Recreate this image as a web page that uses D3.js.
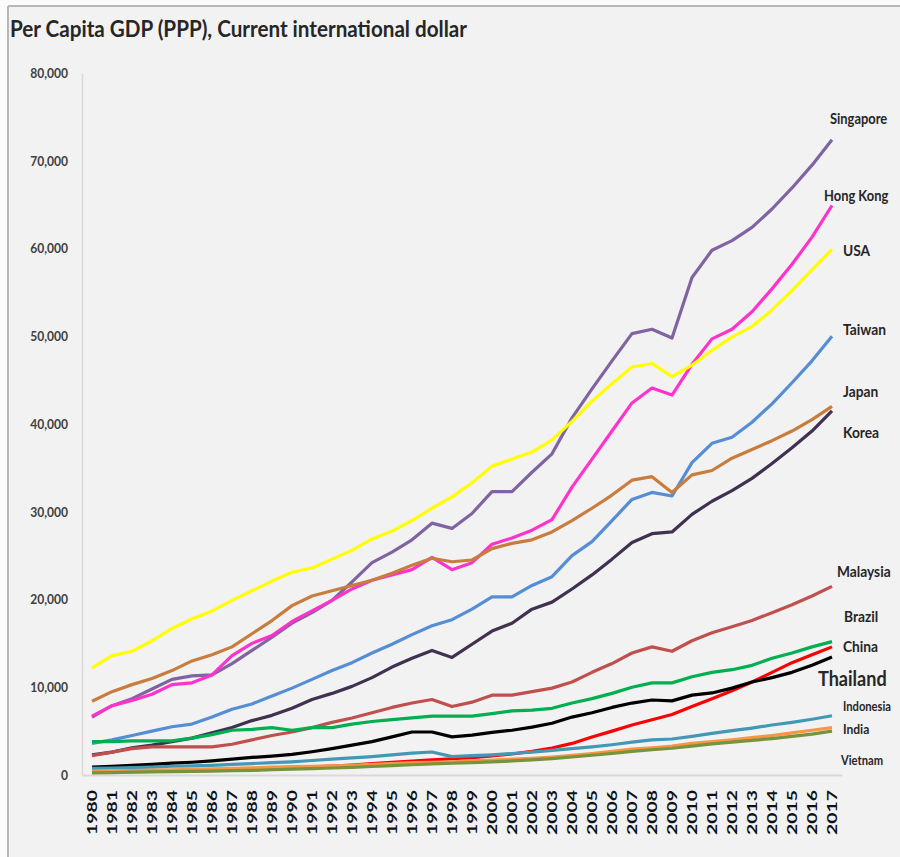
<!DOCTYPE html>
<html>
<head>
<meta charset="utf-8">
<script src="https://d3js.org/d3.v7.min.js"></script>
<style>
body { margin: 0; background: #fbfbfb; }
text { font-family: Lato, "Open Sans", sans-serif; }
</style>
</head>
<body>
<script>

// data (current international dollar, PPP)
var years = d3.range(1980, 2018);

var singapore = [6600,7900,8700,9800,10900,11300,11400,12700,14200,15700,17300,18500,19900,22000,24200,25400,26800,28700,28100,29800,32300,32300,34500,36600,40700,44000,47200,50300,50800,49800,56700,59800,60900,62400,64500,66900,69500,72400];
var hongKong  = [6700,7900,8500,9200,10300,10500,11400,13600,15000,15900,17500,18700,19900,21200,22200,22800,23400,24800,23400,24200,26300,27000,27900,29100,32800,36000,39200,42400,44100,43300,46800,49700,50800,52800,55400,58200,61300,64900];
var usa       = [12200,13600,14100,15300,16700,17800,18700,19900,21000,22100,23100,23600,24600,25600,26900,27800,29000,30400,31700,33300,35200,36000,36800,38200,40300,42600,44600,46500,46900,45400,46700,48400,49900,51100,53000,55200,57600,59900];
var taiwan    = [3600,4000,4500,5000,5500,5800,6600,7500,8100,9000,9900,10900,11900,12800,13900,14900,16000,17000,17700,18900,20300,20300,21600,22600,25000,26600,29000,31400,32200,31800,35600,37800,38500,40200,42300,44700,47200,50000];
var japan     = [8400,9500,10300,11000,11900,13000,13700,14600,16100,17600,19300,20400,21000,21600,22200,23000,23900,24700,24300,24500,25800,26400,26800,27700,29000,30400,31900,33600,34000,32200,34200,34700,36100,37100,38100,39200,40500,42000];
var korea     = [2300,2600,3100,3400,3800,4200,4800,5400,6200,6800,7600,8600,9300,10100,11100,12300,13300,14200,13400,14900,16400,17300,18900,19700,21200,22800,24600,26500,27500,27700,29700,31200,32400,33800,35500,37300,39200,41500];
var malaysia  = [2200,2600,3000,3200,3200,3200,3200,3500,4000,4500,4900,5400,6000,6500,7100,7700,8200,8600,7800,8300,9100,9100,9500,9900,10600,11700,12700,13900,14600,14100,15300,16200,16900,17600,18500,19400,20400,21500];
var brazil    = [3800,3800,3900,3900,3900,4200,4600,5100,5200,5400,5100,5400,5400,5800,6100,6300,6500,6700,6700,6700,7000,7300,7400,7600,8200,8700,9300,10000,10500,10500,11200,11700,12000,12500,13300,13900,14600,15200];
var china     = [300,330,370,420,480,540,590,650,720,780,850,930,1020,1140,1290,1430,1580,1720,1850,1990,2170,2390,2700,3080,3600,4330,5000,5700,6300,6900,7800,8700,9600,10600,11700,12800,13700,14600];
var thailand  = [900,1000,1100,1200,1350,1450,1600,1800,2000,2150,2350,2650,3000,3400,3800,4350,4900,4900,4350,4550,4850,5100,5450,5900,6600,7100,7700,8200,8550,8450,9100,9350,9900,10600,11100,11700,12500,13450];
var indonesia = [750,800,850,900,1000,1050,1100,1200,1300,1400,1500,1650,1800,1950,2100,2300,2500,2620,2100,2200,2300,2450,2600,2800,3000,3200,3450,3750,4000,4100,4400,4750,5050,5350,5700,6000,6350,6750];
var india     = [450,480,500,550,600,650,700,750,820,900,950,1000,1050,1100,1200,1300,1400,1450,1500,1600,1700,1800,1900,2050,2250,2450,2700,2950,3100,3300,3600,3800,4000,4250,4500,4800,5100,5400];
var vietnam   = [250,280,320,350,380,420,450,490,530,600,660,720,800,880,970,1070,1170,1270,1340,1400,1500,1600,1720,1870,2050,2250,2450,2700,2880,3050,3300,3550,3750,3950,4150,4400,4650,5000];

var names = ["Singapore","Hong Kong","USA","Taiwan","Japan","Korea","Malaysia","Brazil","China","Thailand","Indonesia","India","Vietnam"];
var values = [singapore,hongKong,usa,taiwan,japan,korea,malaysia,brazil,china,thailand,indonesia,india,vietnam];

var yTicks = [0,10000,20000,30000,40000,50000,60000,70000,80000];

// styling
var colors = ["#8064a2","#ff33cc","#ffff00","#558ed5","#c87d3e","#403151","#c0504d","#00b050","#ff0000","#000000","#4298b5","#f79646","#77933c"];
// where each end label sits (value units) and its shift from the last point
var labelAt = [74190,65410,59150,50140,43080,38400,22560,17440,14020,10140,7290,4670,1140];
var labelDx = [-2,-8,11,11,11,11,5,12,11,-14,11,11,9];
var labelSize = [15,15,16,16,16,16,16,16,16,21,13,14,13];

var w = 900, h = 857;

var svg = d3.select("body").append("svg")
	.attr("width", w)
	.attr("height", h);

// frame like the screenshot
svg.append("rect").attr("x",8).attr("y",6).attr("width",w-8).attr("height",h-6)
	.attr("fill","#f2f2f2");
svg.append("line").attr("x1",8).attr("x2",w).attr("y1",6).attr("y2",6)
	.attr("stroke","#b8b8b8").attr("stroke-width",2);
svg.append("line").attr("x1",8).attr("x2",8).attr("y1",6).attr("y2",h)
	.attr("stroke","#b8b8b8").attr("stroke-width",2);

// narrow the text a bit (the original font is a condensed one), keep it inside the page
function squeeze(sel, f) {
	sel.each(function() {
		var len = this.getComputedTextLength() * f;
		var x0 = +d3.select(this).attr("x") || 0;
		if (x0 > 0 && x0 + len > w - 4) len = w - 4 - x0;
		d3.select(this).attr("textLength", len).attr("lengthAdjust","spacingAndGlyphs");
	});
}

svg.append("text")
	.attr("x",10).attr("y",37)
	.attr("font-size",23).attr("font-weight",700)
	.attr("fill","#262626")
	.attr("textLength",457).attr("lengthAdjust","spacingAndGlyphs")
	.text("Per Capita GDP (PPP), Current international dollar");

var x = d3.scaleBand().domain(years).range([82,842]);
var y = d3.scaleLinear().domain([0,80000]).range([775,73]);

var yAxis = svg.append("g")
	.attr("transform","translate(82,0)")
	.call(d3.axisLeft(y).tickValues(yTicks).tickSize(0).tickPadding(14).tickFormat(d3.format(",")));
yAxis.select(".domain").attr("stroke","#d9d9d9").attr("stroke-width",1.5);
yAxis.selectAll("text")
	.attr("font-family","Lato, sans-serif")
	.attr("font-size",14).attr("font-weight",700)
	.attr("fill","#404040");
squeeze(yAxis.selectAll("text"), 0.86);

var xAxis = svg.append("g")
	.attr("transform","translate(0,775)")
	.call(d3.axisBottom(x).tickSize(0));
xAxis.select(".domain").attr("stroke","#d9d9d9").attr("stroke-width",2);
xAxis.selectAll("text")
	.attr("font-family","'Liberation Sans', Arial, sans-serif")
	.attr("font-size",13).attr("font-weight",700)
	.attr("fill","#111")
	.attr("transform","rotate(-90)")
	.attr("text-anchor","end")
	.attr("x",-15).attr("y",0).attr("dy","0.36em")
	.attr("textLength",45).attr("lengthAdjust","spacingAndGlyphs");

var line = d3.line()
	.x(function(d,i) { return x(years[i]) + x.bandwidth()/2; })
	.y(function(d) { return y(d); });

svg.selectAll("path.series")
	.data(values)
	.enter()
	.append("path")
	.attr("class","series")
	.attr("d", line)
	.attr("fill","none")
	.attr("stroke", function(d,i) { return colors[i]; })
	.attr("stroke-width",3.2)
	.attr("stroke-linejoin","round");

var last = x(years[years.length-1]) + x.bandwidth()/2;

var labels = svg.selectAll("text.name")
	.data(names)
	.enter()
	.append("text")
	.attr("class","name")
	.attr("x", function(d,i) { return last + labelDx[i]; })
	.attr("y", function(d,i) { return y(labelAt[i]); })
	.attr("font-size", function(d,i) { return labelSize[i]; })
	.attr("font-weight",700)
	.attr("fill","#262626")
	.text(function(d) { return d; });
squeeze(labels, 0.86);

</script>
</body>
</html>
